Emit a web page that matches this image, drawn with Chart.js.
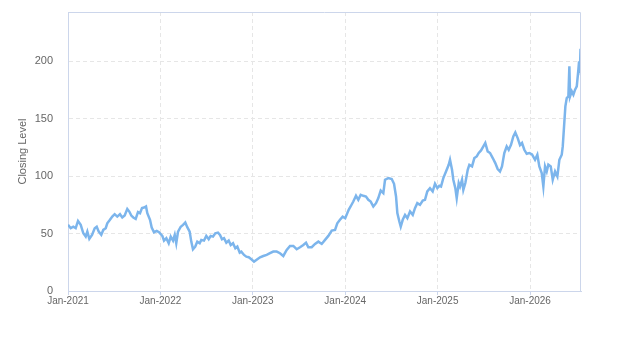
<!DOCTYPE html>
<html>
<head>
<meta charset="utf-8">
<script src="https://cdn.jsdelivr.net/npm/chart.js@4.4.1/dist/chart.umd.min.js"></script>
<style>
html,body{margin:0;padding:0;background:#fff;}
#wrap{width:623px;height:350px;}
</style>
</head>
<body>
<div id="wrap"><canvas id="c" width="623" height="350"></canvas></div>
<script>
// x positions: months since Jan-2021
const months = [0,0.35,0.69,1.0,1.3,1.65,1.99,2.3,2.51,2.77,3.12,3.47,3.73,3.99,4.32,4.58,4.9,5.1,5.45,5.75,6.06,6.4,6.75,7.05,7.36,7.7,7.96,8.22,8.48,8.79,9.09,9.35,9.61,9.87,10.13,10.3,10.65,10.87,11.17,11.52,11.82,
12.25,12.47,12.77,13.08,13.34,13.64,13.86,14.06,14.29,14.64,14.94,15.23,15.49,15.8,16.01,16.23,16.53,16.79,17.1,17.31,17.66,17.96,18.27,18.53,18.83,19.13,19.48,19.74,20,20.26,20.56,20.87,21.13,21.43,21.73,21.99,22.3,22.51,22.86,23.16,23.47,23.81,
24.16,24.45,24.94,25.36,25.8,26.23,26.66,27.1,27.53,27.96,28.4,28.83,29.26,29.7,30.13,30.56,30.91,31.21,31.65,32.08,32.51,32.95,33.38,33.81,34.25,34.68,34.97,35.32,35.67,36.0,36.45,36.7,
37.05,37.4,37.7,38.01,38.35,38.7,39,39.31,39.65,40,40.3,40.61,40.95,41.17,41.6,42.04,42.34,42.6,42.77,43.03,43.21,43.47,43.77,44.07,44.42,44.77,45.06,45.36,45.71,46.07,46.36,46.66,47.01,47.36,47.66,47.96,48.22,
48.44,48.74,49.09,49.44,49.61,49.87,50.04,50.3,50.48,50.74,50.91,51.17,51.34,51.6,51.91,52.12,52.47,52.77,53.08,53.34,53.64,53.94,54.19,54.5,54.81,55.16,55.49,55.8,56.1,56.36,56.66,56.97,57.23,57.53,57.83,58.09,58.4,58.7,58.96,59.26,59.57,59.91,
60.26,60.65,60.95,61.21,61.52,61.73,61.95,62.17,62.38,62.69,62.95,63.25,63.55,63.81,64.12,64.25,64.42,64.59,64.77,64.98,65.11,65.2,65.42,65.63,65.85,66.07,66.28,66.37,66.47,66.56,66.62];
const closes = [57.6,54.7,56,54.7,61,57.6,50.3,47.4,51.7,45.4,48.9,54.7,56,51.7,48.9,53.2,54.7,59,62,64.8,66.9,64.8,66.9,64,65.7,71.5,69.2,65.7,64,62.8,68.7,67.8,72.2,72.7,73.6,67.8,62,55.2,51.2,52.4,51.2,
48,43.9,46,41.6,47.4,43.9,48.9,41.6,51.7,56,57.6,59.6,55.6,51.7,43,36.4,38.7,43,41.6,44.5,43.9,48,45.1,48,47.4,50.3,50.9,48.9,45.1,46,42.1,43.9,40.1,41.6,37.3,38.7,33.4,34.3,31.4,29.9,29.4,27.7,
25.6,27,29.4,30.5,31.4,32.9,34.3,34.3,32.9,30.5,35.8,39.3,39.3,36.4,38.1,40.1,42.1,38.1,38.1,41,43,41,44.5,48,52.6,53.2,59,62,64.8,63.4,70.7,73.6,
77.9,82.9,79.4,83.8,82.9,82.3,79.4,77.9,73.6,76.5,80.9,87.5,85.3,96.9,98.3,97.5,93.4,82.3,67.8,60.5,56,62,66.3,63.4,69.2,66.3,72.2,76.5,75,78.8,79.4,86.7,89.6,86.7,93.4,89.6,91.6,
91,98.3,104.1,109.9,114.3,105.6,96.9,89.6,80.9,94,91,96.9,88.1,94,105.6,109.9,108.5,115.8,117.2,120.2,122.4,125.9,128.9,121.6,120.2,115.8,111.4,106.2,104.1,108.5,120.2,125.9,123,127.4,134.6,138.1,133.2,127,128.9,123,119.5,120.2,
119,114.3,118.7,108.5,102.7,91,108.5,104.1,110,108.5,96.9,104.1,99.7,114.3,118.7,125.9,143.4,160.8,168.1,169.5,195.7,169.5,173.9,171,175.4,178.3,192.8,200,190,211,188];
const yTicks = [0,50,100,150,200];
const xTickMonths = [0,12,24,36,48,60];
const xTickLabels = ['Jan-2021','Jan-2022','Jan-2023','Jan-2024','Jan-2025','Jan-2026'];

const points = months.map((m,i)=>({x:m,y:closes[i]}));

const boxPlugin = {
  id:'box',
  afterDraw(chart){
    const a = chart.chartArea, ctx = chart.ctx;
    ctx.save();
    ctx.strokeStyle = '#ccd6eb';
    ctx.lineWidth = 1;
    ctx.beginPath();
    ctx.moveTo(a.left+0.5, a.top+0.5);
    ctx.lineTo(a.right-0.5, a.top+0.5);
    ctx.lineTo(a.right-0.5, a.bottom);
    ctx.stroke();
    ctx.restore();
  }
};

new Chart(document.getElementById('c'), {
  type:'line',
  data:{datasets:[{
    data:points,
    borderColor:'#7cb5ec',
    borderWidth:2.5,
    pointRadius:0,
    pointHoverRadius:0,
    tension:0,
    fill:false
  }]},
  options:{
    responsive:false,
    animation:false,
    devicePixelRatio:1,
    layout:{autoPadding:false,padding:{left:12,right:42,top:12,bottom:39}},
    plugins:{legend:{display:false},tooltip:{enabled:false}},
    scales:{
      x:{
        type:'linear',
        min:0,
        max:66.62,
        afterFit(s){s.height=20;},
        afterBuildTicks(s){s.ticks = xTickMonths.map(v=>({value:v}));},
        ticks:{
          autoSkip:false,maxRotation:0,includeBounds:false,
          color:'#666666',font:{family:'"Liberation Sans", Arial, sans-serif',size:10},
          padding:0,
          callback(v){const i=xTickMonths.indexOf(v);return i>=0?xTickLabels[i]:'';}
        },
        grid:{color:'#e6e6e6',tickLength:4,drawTicks:true,tickColor:'#ccd6eb'},
        border:{color:'#ccd6eb',width:1,dash:[4,3]}
      },
      y:{
        min:0,
        max:243,
        afterFit(s){s.width=56;s.paddingTop=4;s.paddingBottom=4;},
        afterBuildTicks(s){s.ticks = yTicks.map(v=>({value:v}));},
        ticks:{
          includeBounds:false,
          color:'#666666',font:{family:'"Liberation Sans", Arial, sans-serif',size:11},
          padding:15
        },
        grid:{color:'#e6e6e6',drawTicks:false},
        border:{color:'#ccd6eb',width:1,dash:[4,3]},
        title:{display:true,text:'Closing Level',color:'#666666',font:{family:'"Liberation Sans", Arial, sans-serif',size:11},padding:{top:4,bottom:4}}
      }
    }
  },
  plugins:[boxPlugin]
});
</script>
</body>
</html>
